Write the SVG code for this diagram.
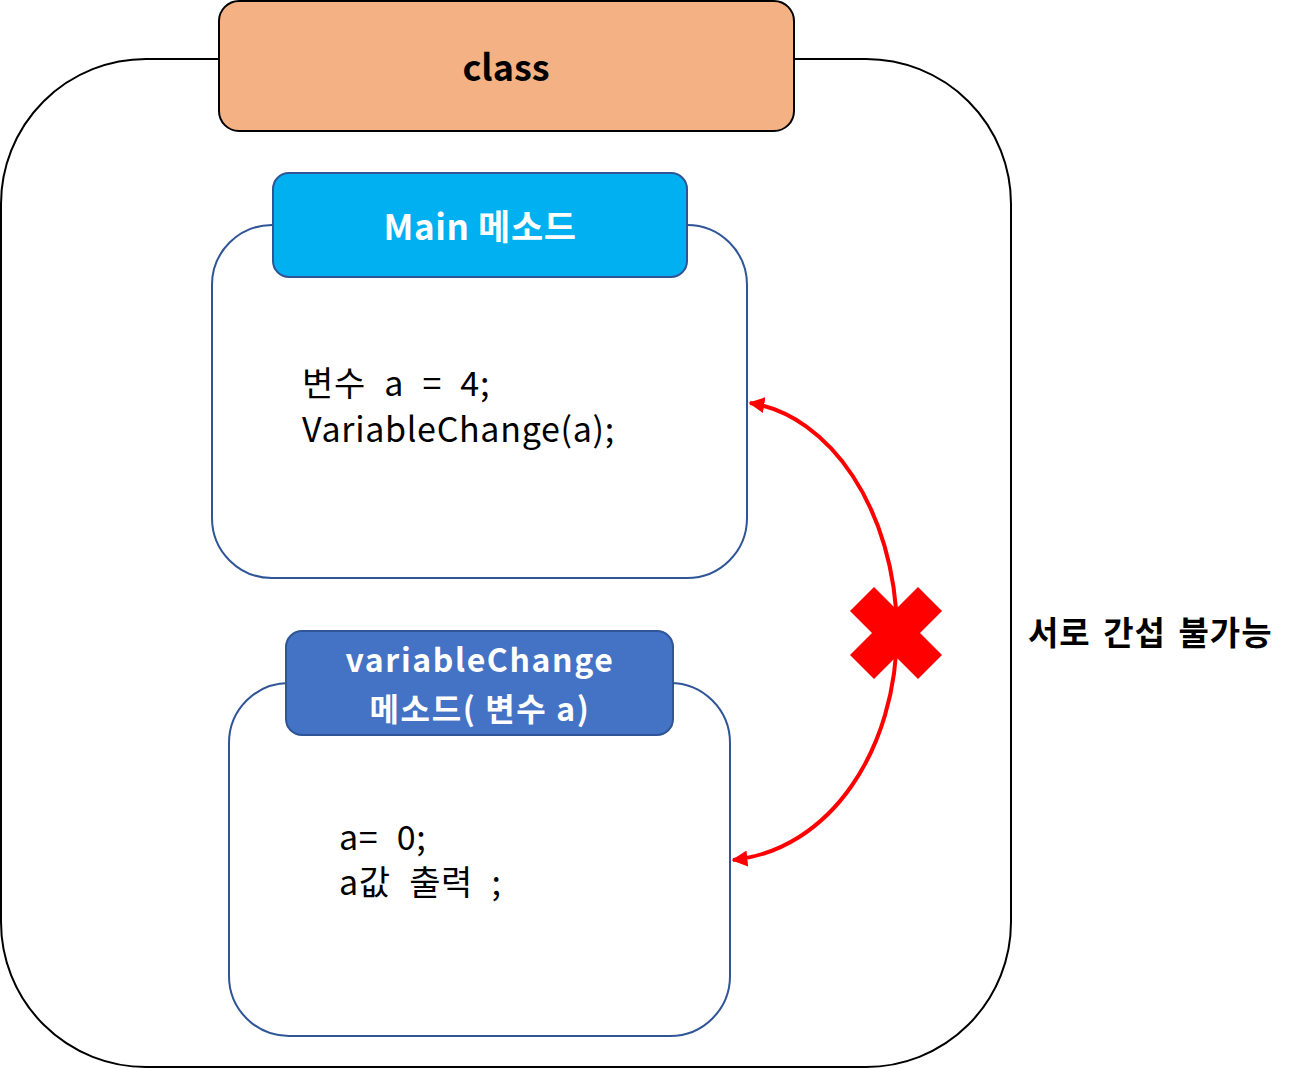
<svg xmlns="http://www.w3.org/2000/svg" width="1297" height="1069" viewBox="0 0 1297 1069">
<style>
.hdr{font-family:"Noto Sans CJK KR","Noto Sans",sans-serif;font-weight:bold;text-anchor:middle;dominant-baseline:central}
.body{font-family:"Noto Sans CJK KR","Noto Sans",sans-serif;font-size:34px;letter-spacing:0.7px;word-spacing:10px;fill:#000}
.box{fill:#fff;stroke:#2F5597;stroke-width:2}
</style>
<defs>
<marker id="ah" viewBox="0 0 10 10" refX="9" refY="5" markerWidth="4" markerHeight="4" orient="auto-start-reverse">
<path d="M0,0 L10,5 L0,10 Z" fill="#FF0000"/>
</marker>
</defs>
<g id="class-container">
<rect x="1" y="59" width="1010" height="1008" rx="145" ry="145" fill="#fff" stroke="#000" stroke-width="2"/>
</g>
<g id="class-header">
<rect x="219" y="1" width="575" height="130" rx="20" ry="20" fill="#F4B183" stroke="#000" stroke-width="2"/>
<text class="hdr" x="506" y="65" font-size="36" fill="#000">class</text>
</g>
<g id="main-method">
<rect class="box" x="212" y="225" width="535" height="353" rx="60" ry="60"/>
<rect x="273" y="173" width="414" height="104" rx="16" ry="16" fill="#00B0F0" stroke="#2F5597" stroke-width="2"/>
<text class="hdr" x="480" y="224" font-size="35" letter-spacing="0.6" fill="#fff">Main 메소드</text>
<text class="body" x="302" y="396">변수 a = 4;</text>
<text class="body" x="302" y="442">VariableChange(a);</text>
</g>
<g id="variable-change-method">
<rect class="box" x="229" y="683" width="501" height="353" rx="60" ry="60"/>
<rect x="286" y="631" width="387" height="104" rx="16" ry="16" fill="#4472C4" stroke="#2F5597" stroke-width="2"/>
<text class="hdr" x="480" y="658" font-size="32" letter-spacing="1.6" fill="#fff">variableChange</text>
<text class="hdr" x="480" y="707" font-size="32" letter-spacing="1.6" fill="#fff">메소드( 변수 a)</text>
<text class="body" x="339" y="850">a= 0;</text>
<text class="body" x="339" y="895">a값 출력 ;</text>
</g>
<g id="connectors">
<path d="M750,403 C830,415 895,510 897,630 C897,750 830,850 733,860" fill="none" stroke="#FF0000" stroke-width="4" marker-start="url(#ah)" marker-end="url(#ah)"/>
</g>
<g id="blocked-mark">
<polygon transform="translate(896,633)" points="0,-24 22,-46 46,-22 24,0 46,22 22,46 0,24 -22,46 -46,22 -24,0 -46,-22 -22,-46" fill="#FF0000"/>
</g>
<g id="label">
<text x="1028" y="645" font-family="'Noto Sans CJK KR','Noto Sans',sans-serif" font-weight="bold" font-size="33" letter-spacing="1" word-spacing="4" fill="#000">서로 간섭 불가능</text>
</g>
</svg>
